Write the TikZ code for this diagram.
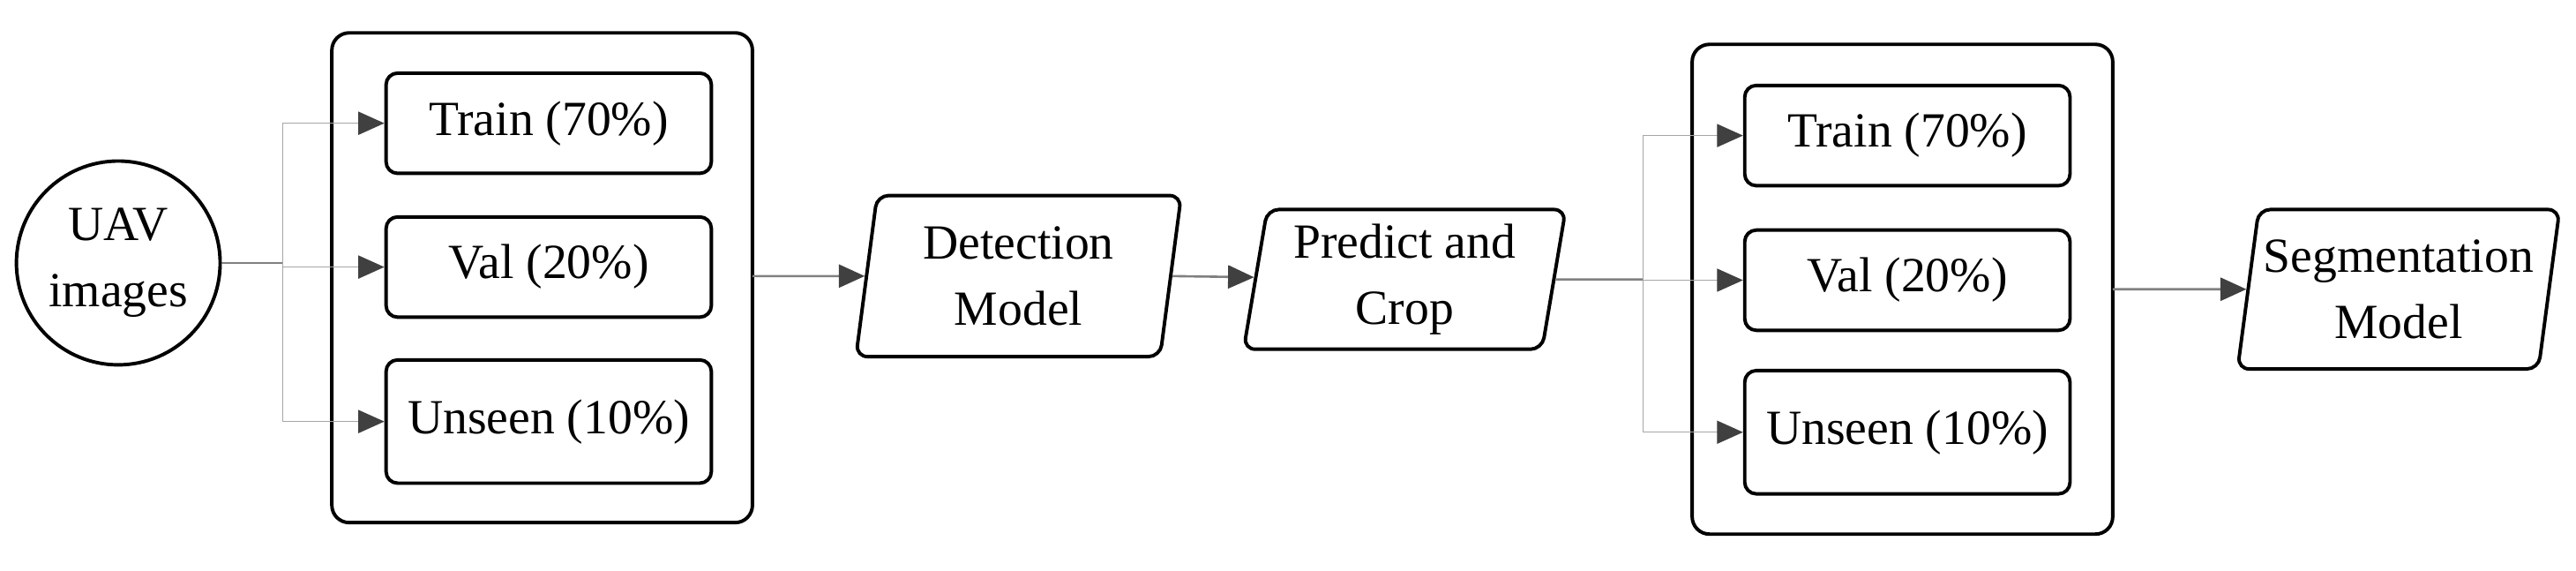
\documentclass[tikz,border=0pt]{standalone}
\usepackage{fontspec}
\setmainfont{Liberation Serif}
\usetikzlibrary{shapes.geometric, arrows.meta}

\begin{document}
\begin{tikzpicture}[
	every node/.style={font=\fontsize{17}{23}\selectfont, align=center},
	box/.style={draw, very thick, rounded corners=4pt, minimum width=3.96cm, minimum height=1.22cm},
	group/.style={draw, very thick, rounded corners=6pt},
	slant/.style={draw, very thick, trapezium, trapezium left angle=78, trapezium right angle=102, trapezium stretches body, rounded corners=4pt, inner sep=0pt},
	split/.style={draw=gray!70, thin, -{Triangle[length=9pt,width=8pt,color=black!75]}},
	flow/.style={draw=gray, thick, -{Triangle[length=9pt,width=8pt,color=black!75]}}
]
	\useasboundingbox (0,0) rectangle (31.36,6.94);

	%source
	\node[draw, very thick, circle, minimum size=2.48cm, inner sep=0pt] (uav) at (1.44,3.74) {UAV\\images};

	%first split
	\draw[group] (4.04,0.58) rectangle (9.16,6.54);
	\coordinate (g1) at (9.16,3.54);
	\node[box] (tr1) at (6.68,5.44) {Train (70\%)};
	\node[box] (va1) at (6.68,3.69) {Val (20\%)};
	\node[box, minimum height=1.5cm] (un1) at (6.68,1.81) {Unseen (10\%)};

	%models
	\node[slant, minimum width=3.96cm, minimum height=1.96cm] (det) at (12.4,3.58) {Detection\\Model};
	\node[slant, minimum width=3.92cm, minimum height=1.7cm] (crop) at (17.1,3.54) {Predict and\\Crop};

	%second split
	\draw[group] (20.6,0.44) rectangle (25.72,6.4);
	\coordinate (g2) at (25.72,3.42);
	\node[box] (tr2) at (23.22,5.29) {Train (70\%)};
	\node[box] (va2) at (23.22,3.53) {Val (20\%)};
	\node[box, minimum height=1.5cm] (un2) at (23.22,1.68) {Unseen (10\%)};

	\node[slant, minimum width=3.92cm, minimum height=1.94cm] (seg) at (29.2,3.42) {Segmentation\\Model};

	%connectors
	\coordinate (b1) at (3.44,3.74);
	\draw[gray, thick] (uav.east) -- (b1);
	\foreach \t in {tr1,va1,un1}
		\draw[split] (b1) |- (\t.west);
	\coordinate (b2) at (20.0,3.54);
	\draw[gray, thick] (crop.east) -- (b2);
	\foreach \t in {tr2,va2,un2}
		\draw[split] (b2) |- (\t.west);
	\draw[flow] (g1 |- det) -- (det);
	\draw[flow] (det.east) -- (crop);
	\draw[flow] (g2 |- seg) -- (seg);
\end{tikzpicture}
\end{document}
